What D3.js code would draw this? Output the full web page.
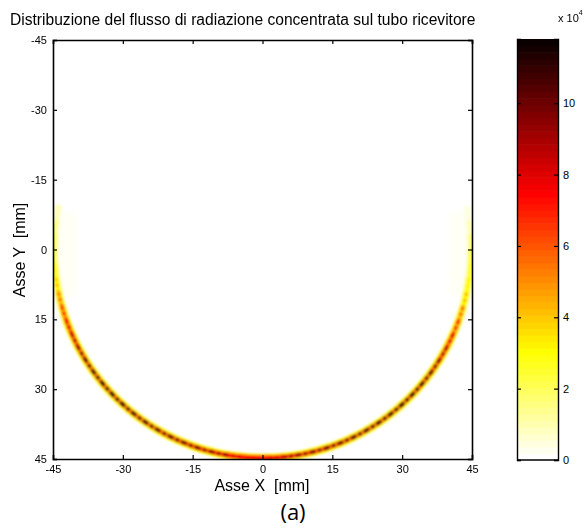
<!DOCTYPE html>
<html><head><meta charset="utf-8">
<script src="https://cdn.jsdelivr.net/npm/d3@7/dist/d3.min.js"></script>
<style>body{margin:0;background:#fff;}svg{display:block;font-family:"Liberation Sans",Arial,sans-serif;}</style>
</head><body>
<svg id="chart" width="587" height="528"></svg>
<script>
// ---- data ----
const title = "Distribuzione del flusso di radiazione concentrata sul tubo ricevitore";
const xLabel = "Asse X  [mm]";
const yLabel = "Asse Y  [mm]";
const caption = "(a)";
const axisTicks = [-45, -30, -15, 0, 15, 30, 45];
const colorTicks = [0, 2, 4, 6, 8, 10];
const fluxMax = 11.8;            // x 10^4
const tubeRadius = 45;           // mm
// position along the tube (degrees; 0 = +X, 90 = bottom, 180 = -X)
const angles = [-12,-8,-4,0,4,8,12,16,20,24,28,32,36,40,44,48,52,56,60,64,68,72,76,80,84,88,
                92,96,100,104,108,112,116,120,124,128,132,136,140,144,148,152,156,160,164,168,172,176,180,184,188,192];
// flux of the outer band (x 10^4)
const bandFlux = [0.4,0.8,1.4,1.9,2.2,2.6,3.1,3.8,4.6,5.2,5.4,5.3,5.1,5.0,5.0,5.0,5.0,5.0,5.1,5.2,5.4,5.6,5.8,6.2,6.8,7.1,
                  7.1,6.8,6.2,5.8,5.6,5.4,5.2,5.1,5.0,5.0,5.0,5.0,5.0,5.1,5.3,5.4,5.2,4.6,3.8,3.1,2.6,2.2,1.9,1.4,0.8,0.4];
// flux of the peak cells in the band centre (x 10^4)
const coreFlux = [0.5,1.0,1.7,2.2,2.6,3.2,4.2,5.6,7.0,8.0,8.8,9.6,10.2,10.8,11.2,11.0,10.6,10.4,10.2,10.0,9.8,9.6,9.4,9.2,8.0,7.2,
                  7.2,8.0,9.2,9.4,9.6,9.8,10.0,10.2,10.4,10.6,11.0,11.2,10.8,10.2,9.6,8.8,8.0,7.0,5.6,4.2,3.2,2.6,2.2,1.7,1.0,0.5];
// faint background cells [x0, x1, y0, y1, flux]
const faintCells = [
  [-45, -40, -8, 10, 0.3], [-40, -35, -8, 18, 0.12],
  [40, 45, -8, 10, 0.3], [35, 40, -8, 18, 0.12],
  [-8, 14, -45, -42, 0.15]
];

// ---- colormap: flipped MATLAB "hot", 64 levels ----
const N = 64;
function hot(i){ // i in 0..N-1, 0 = black
  const n1 = 24, n2 = 24;
  const r = i < n1 ? (i+1)/n1 : 1;
  const g = i < n1 ? 0 : (i < n1+n2 ? (i-n1+1)/n2 : 1);
  const b = i < n1+n2 ? 0 : (i-n1-n2+1)/(N-n1-n2);
  return d3.rgb(r*255, g*255, b*255).toString();
}
const colorLevels = d3.range(N).map(i => hot(N-1-i)); // 0 -> white
const color = d3.scaleQuantize().domain([0, fluxMax]).range(colorLevels);

// ---- layout ----
const svg = d3.select("#chart");
const x = d3.scaleLinear().domain([-45, 45]).range([53, 472]);
const y = d3.scaleLinear().domain([-45, 45]).range([40, 459]);

const defs = svg.append("defs");
defs.append("clipPath").attr("id","clip")
  .append("rect").attr("x",53).attr("y",40).attr("width",419).attr("height",419);
const soft = defs.append("filter").attr("id","soft");
soft.append("feGaussianBlur").attr("stdDeviation", 0.8);
const soft2 = defs.append("filter").attr("id","soft2");
soft2.append("feGaussianBlur").attr("stdDeviation", 2);

const plot = svg.append("g").attr("clip-path","url(#clip)");
plot.append("g").attr("filter","url(#soft2)")
  .selectAll("rect.faint").data(faintCells).join("rect")
  .attr("x", d => x(d[0])).attr("width", d => x(d[1]) - x(d[0]))
  .attr("y", d => y(d[2])).attr("height", d => y(d[3]) - y(d[2]))
  .attr("fill", d => color(d[4])).attr("opacity", 0.6);

const rad = d => d * Math.PI / 180;
const segs = angles.slice(0, -1).map((a, i) => ({a0: a, a1: angles[i+1], band: bandFlux[i], core: coreFlux[i]}));
const arcLine = d3.line().x(p => x(p[0])).y(p => y(p[1]));
function arcPts(a0, a1, r){
  return d3.range(0, 9).map(k => { const t = rad(a0 + (a1-a0)*k/8); return [r*Math.cos(t), r*Math.sin(t)]; });
}
const bands = plot.append("g").attr("filter","url(#soft)");
bands.selectAll("path.glow").data(segs).join("path")
  .attr("d", d => arcLine(arcPts(d.a0, d.a1 + 0.3, tubeRadius - 0.2)))
  .attr("fill","none").attr("stroke", d => color(d.band * 0.5))
  .attr("stroke-width", x(1.8) - x(0));
bands.selectAll("path.band").data(segs).join("path")
  .attr("d", d => arcLine(arcPts(d.a0, d.a1 + 0.3, tubeRadius - 0.2)))
  .attr("fill","none").attr("stroke", d => color(d.band))
  .attr("stroke-width", x(1.1) - x(0));
bands.selectAll("path.core").data(segs).join("path")
  .attr("d", d => arcLine(arcPts(d.a0, d.a1, tubeRadius - 0.2)))
  .attr("fill","none").attr("stroke", d => color(d.core))
  .attr("stroke-width", x(0.8) - x(0))
  .attr("stroke-dasharray", "3.4 2.6");

// ---- axes ----
const fmt = d => String(d);
const frame = svg.append("g");
frame.append("g").attr("transform","translate(0,459)")
  .call(d3.axisBottom(x).tickValues(axisTicks).tickSize(-4).tickFormat(fmt).tickPadding(6));
frame.append("g").attr("transform","translate(0,40)")
  .call(d3.axisTop(x).tickValues(axisTicks).tickSize(-4).tickFormat(""));
frame.append("g").attr("transform","translate(53,0)")
  .call(d3.axisLeft(y).tickValues(axisTicks).tickSize(-4).tickFormat(fmt).tickPadding(6));
frame.append("g").attr("transform","translate(472,0)")
  .call(d3.axisRight(y).tickValues(axisTicks).tickSize(-4).tickFormat(""));
frame.selectAll(".domain").attr("stroke","#000").attr("stroke-width",1.6);
frame.selectAll(".tick line").attr("stroke","#000").attr("stroke-width",1.2);
frame.selectAll(".tick text").attr("font-family","'Liberation Sans',Arial,sans-serif").attr("font-size",11).attr("fill","#000");

// ---- colorbar ----
const cy = d3.scaleLinear().domain([0, fluxMax]).range([460, 39]);
const cbX0 = 517, cbX1 = 558;
const cb = svg.append("g");
cb.selectAll("rect").data(colorLevels).join("rect")
  .attr("x", cbX0).attr("width", cbX1 - cbX0)
  .attr("y", (c, i) => cy((i+1) * fluxMax / N))
  .attr("height", (c, i) => cy(i * fluxMax / N) - cy((i+1) * fluxMax / N) + 0.6)
  .attr("fill", c => c);
cb.append("g").attr("transform", `translate(${cbX1},0)`)
  .call(d3.axisRight(cy).tickValues(colorTicks).tickSize(-4).tickFormat(fmt).tickPadding(5));
cb.append("g").attr("transform", `translate(${cbX0},0)`)
  .call(d3.axisLeft(cy).tickValues(colorTicks).tickSize(-4).tickFormat(""));
cb.selectAll(".domain").attr("stroke","#000").attr("stroke-width",1.4);
cb.selectAll(".tick line").attr("stroke","#000").attr("stroke-width",1.2);
cb.selectAll(".tick text").attr("font-family","'Liberation Sans',Arial,sans-serif").attr("font-size",11).attr("fill","#000");
cb.append("line").attr("x1",cbX0).attr("x2",cbX1).attr("y1",460).attr("y2",460).attr("stroke","#000").attr("stroke-width",1.4);
const exp = svg.append("text").attr("x", 558).attr("y", 22).attr("font-size", 11).attr("fill","#000");
exp.append("tspan").text("x 10");
exp.append("tspan").attr("dy", -7).attr("font-size", 7).text("4");

// ---- texts ----
svg.append("text").attr("x", 10).attr("y", 25).attr("font-size", 15.6).attr("fill","#000").text(title);
svg.append("text").attr("x", 262).attr("y", 491).attr("text-anchor","middle").attr("font-size", 16).attr("fill","#000")
  .attr("xml:space","preserve").text(xLabel);
svg.append("text").attr("transform","translate(25,250) rotate(-90)").attr("text-anchor","middle").attr("font-size", 16).attr("fill","#000")
  .attr("xml:space","preserve").text(yLabel);
svg.append("text").attr("x", 293).attr("y", 520).attr("text-anchor","middle").attr("font-size", 22)
  .attr("font-family","'Open Sans','Liberation Sans',sans-serif").attr("fill","#000").text(caption);
</script>
</body></html>
